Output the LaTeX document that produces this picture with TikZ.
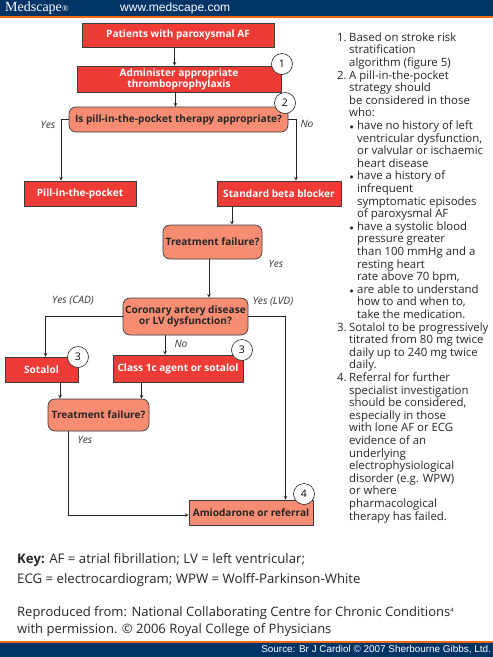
\documentclass[tikz,border=0pt]{standalone}
\usepackage{fontspec}
\setmainfont{Open Sans}
\newfontfamily\arialfont{Liberation Sans}
\newfontfamily\timesfont{Liberation Serif}
\usepackage{xcolor}
\usetikzlibrary{positioning}
\definecolor{bandblue}{HTML}{003366}
\definecolor{bandorange}{HTML}{F26A10}
\definecolor{boxred}{HTML}{EF3B36}
\definecolor{boxsalmon}{HTML}{F68D72}
\definecolor{boxline}{HTML}{3C3C3C}
\newcommand*{\numitem}[1]{\makebox[12pt][l]{#1}}
\newcommand*{\contline}{\hspace*{12pt}}
\newcommand*{\dotitem}{\hspace*{12.5pt}\makebox[7.5pt][l]{\scalebox{0.75}{$\bullet$}}}
\newcommand*{\dotline}{\hspace*{20pt}}
\tikzset{
  redbox/.style={draw=boxline, line width=0.7pt, fill=boxred, text=white, inner sep=0pt,
    align=center, font=\fontsize{10.1}{11}\selectfont\bfseries},
  salmonbox/.style={redbox, fill=boxsalmon, text=black!85},
  decision/.style={salmonbox, rounded corners=7pt},
  numcircle/.style={circle, draw=black!85, fill=white, line width=0.6pt, inner sep=0pt,
    minimum width=21pt, font=\fontsize{10.5}{11}\selectfont},
  answer/.style={inner sep=0pt, text=black!80, font=\fontsize{10.2}{11}\selectfont\itshape},
  keyline/.style={anchor=west, inner sep=0pt, text=black!85, font=\fontsize{13.2}{14}\selectfont},
  repline/.style={keyline, font=\fontsize{13}{14}\selectfont},
  link/.style={-stealth, line width=0.7pt, black!85}
}
\begin{document}
\begin{tikzpicture}[x=1pt,y=-1pt]
\useasboundingbox (0,0) rectangle (493,657);
 % Bands
 \fill[white] (0,0) rectangle (493,657);
 \fill[bandblue] (0,0) rectangle (493,16);
 \fill[bandorange] (0,16) rectangle (493,18);
 \fill[bandorange] (0,641) rectangle (493,643);
 \fill[bandblue] (0,643) rectangle (493,657);
 \node[anchor=west, inner sep=0pt, text=white, font=\timesfont\fontsize{14}{14}\selectfont] (brand) at (5,8) {Medscape\raisebox{-0.5pt}{\small ®}};
 \node[anchor=west, inner sep=0pt, text=white, font=\arialfont\fontsize{12}{12}\selectfont] (site) at (120,8) {www.medscape.com};
 \node[anchor=east, inner sep=0pt, text=white, font=\arialfont\fontsize{9.9}{10}\selectfont] (source) at (491,650) {Source: Br J Cardiol © 2007 Sherbourne Gibbs, Ltd.};

 % Boxes
 \node[redbox, minimum width=192pt, minimum height=24pt] (patients) at (178,35) {Patients with paroxysmal AF};
 \node[redbox, minimum width=204pt, minimum height=26pt] (thrombo) at (179,79) {Administer appropriate\\thromboprophylaxis};
 \node[decision, minimum width=219pt, minimum height=25pt] (pillq) at (178.5,119.5) {Is pill-in-the-pocket therapy appropriate?};
 \node[redbox, minimum width=112pt, minimum height=25pt] (pill) at (80,193.5) {Pill-in-the-pocket};
 \node[redbox, minimum width=124pt, minimum height=25pt] (beta) at (279,193.5) {Standard beta blocker};
 \node[decision, minimum width=99pt, minimum height=34pt] (failone) at (212.5,242) {Treatment failure?};
 \node[decision, minimum width=125pt, minimum height=37pt] (coronary) at (185.5,316.5) {Coronary artery disease\\or LV dysfunction?};
 \node[redbox, minimum width=73pt, minimum height=25pt] (sotalol) at (41.5,369.5) {Sotalol};
 \node[redbox, minimum width=130pt, minimum height=27pt] (classone) at (178,368.5) {Class 1c agent or sotalol};
 \node[decision, minimum width=101pt, minimum height=32pt] (failtwo) at (98.5,415) {Treatment failure?};
 \node[salmonbox, minimum width=124pt, minimum height=25pt] (amio) at (251,512.5) {Amiodarone or referral};

 % Numbered circles
 \node[numcircle] (noteone) at (282,64) {1};
 \node[numcircle] (notetwo) at (285,103) {2};
 \node[numcircle] (notesotalol) at (78,357) {3};
 \node[numcircle] (noteclass) at (242,350) {3};
 \node[numcircle] (notefour) at (304,494) {4};

 % Arrows
 \draw[link] ([xshift=-3.5pt]patients.south) -- ([xshift=-4.5pt]thrombo.north);
 \draw[link] ([xshift=-3.5pt]thrombo.south) -- ([xshift=-3pt]pillq.north);
 \draw[link] (pillq.west) -| ([xshift=-19pt]pill.north);
 \draw[link] (pillq.east) -| ([xshift=17pt]beta.north);
 \draw[link] ([xshift=-47pt]beta.south) -- ([xshift=19.5pt]failone.north);
 \draw[link] ([xshift=-3.5pt]failone.south) -- ([xshift=23.5pt]coronary.north);
 \draw[link] (coronary.west) -| ([xshift=4pt]sotalol.north);
 \draw[link] (coronary.east) -| ([xshift=34.5pt]amio.north);
 \draw[link] ([xshift=-20.5pt]coronary.south) -- ([xshift=-13pt]classone.north);
 \draw[link] ([xshift=18.5pt]sotalol.south) -- ([xshift=-38.5pt]failtwo.north);
 \draw[link] ([xshift=-36.5pt]classone.south) -- ([xshift=43pt]failtwo.north);
 \draw[link] ([xshift=-30pt]failtwo.south) |- ([yshift=-2.5pt]amio.west);

 % Answers
 \node[answer] (yespill) at (48,125) {Yes};
 \node[answer] (nobeta) at (307,124) {No};
 \node[answer] (yesfail) at (276,264) {Yes};
 \node[answer] (yescad) at (73,301) {Yes (CAD)};
 \node[answer] (yeslvd) at (273,302) {Yes (LVD)};
 \node[answer] (noclass) at (181,344) {No};
 \node[answer] (yestwo) at (85,440) {Yes};

 % Notes
 \node[anchor=north west, inner sep=0pt, align=left, text=black!85,
   font=\fontsize{11.4}{12.6}\selectfont] (notes) at (337,32.5) {%
   \numitem{1.}Based on stroke risk\\
   \contline stratification\\
   \contline algorithm (figure 5)\\
   \numitem{2.}A pill-in-the-pocket\\
   \contline strategy should\\
   \contline be considered in those\\
   \contline who:\\
   \dotitem have no history of left\\
   \dotline ventricular dysfunction,\\
   \dotline or valvular or ischaemic\\
   \dotline heart disease\\
   \dotitem have a history of\\
   \dotline infrequent\\
   \dotline symptomatic episodes\\
   \dotline of paroxysmal AF\\
   \dotitem have a systolic blood\\
   \dotline pressure greater\\
   \dotline than 100 mmHg and a\\
   \dotline resting heart\\
   \dotline rate above 70 bpm,\\
   \dotitem are able to understand\\
   \dotline how to and when to,\\
   \dotline take the medication.\\
   \numitem{3.}Sotalol to be progressively\\
   \contline titrated from 80 mg twice\\
   \contline daily up to 240 mg twice\\
   \contline daily.\\
   \numitem{4.}Referral for further\\
   \contline specialist investigation\\
   \contline should be considered,\\
   \contline especially in those\\
   \contline with lone AF or ECG\\
   \contline evidence of an\\
   \contline underlying\\
   \contline electrophysiological\\
   \contline disorder (e.g. WPW)\\
   \contline or where\\
   \contline pharmacological\\
   \contline therapy has failed.};

 % Key
 \node[keyline] (keyone) at (17,560) {\textbf{Key:} AF = atrial fibrillation; LV = left ventricular;};
 \node[keyline] (keytwo) at (17,580) {ECG = electrocardiogram; WPW = Wolff-Parkinson-White};
 \node[repline] (repone) at (17,613) {Reproduced from: National Collaborating Centre for Chronic Conditions\raisebox{4pt}{\fontsize{6}{6}\selectfont 4}};
 \node[repline] (reptwo) at (17,630) {with permission. © 2006 Royal College of Physicians};
\end{tikzpicture}
\end{document}
